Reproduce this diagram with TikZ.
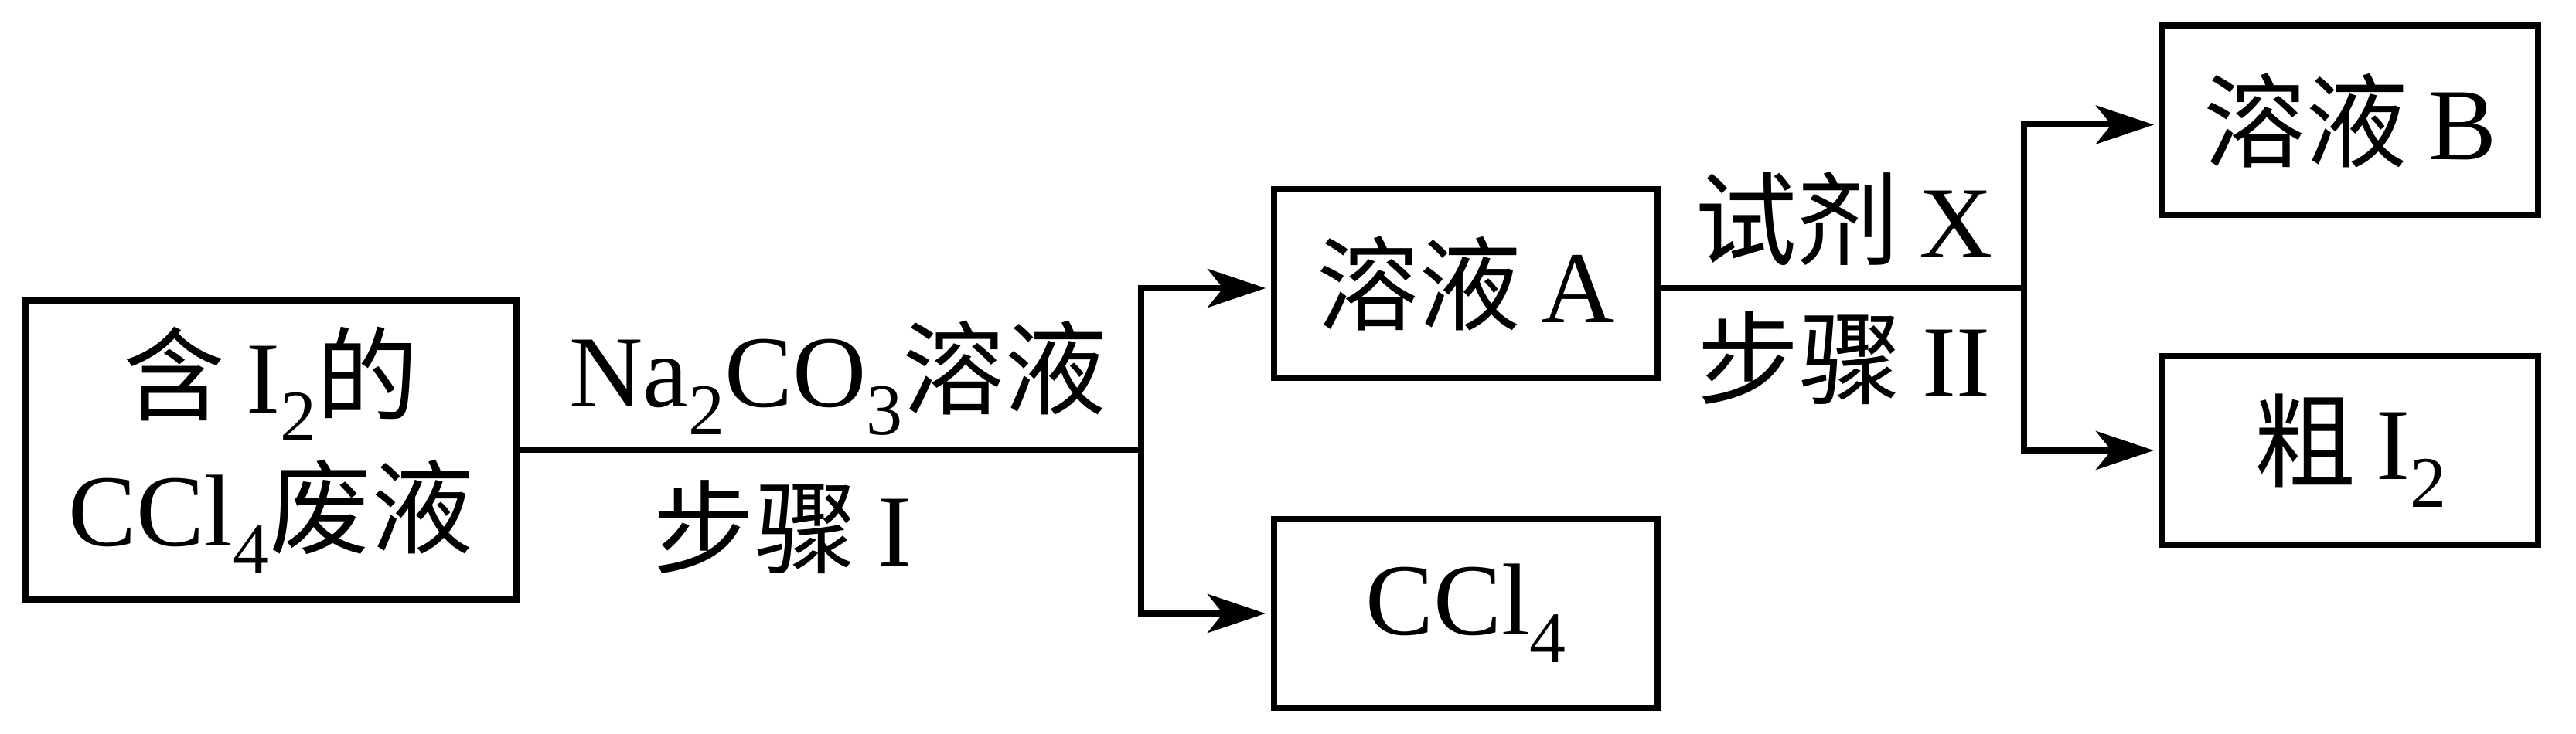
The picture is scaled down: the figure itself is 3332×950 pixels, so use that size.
\documentclass[tikz,border=0pt]{standalone}
\usepackage{fontspec}
\setmainfont{Liberation Serif}
\newfontfamily\cjk{Noto Sans CJK SC}
\usetikzlibrary{arrows.meta}
\newcommand\sbs[1]{\raisebox{-0.27em}{\fontsize{94}{94}\selectfont #1}}
\newcommand\gap{\hspace{0.2em}}
\begin{document}
\begin{tikzpicture}[x=1pt,y=1pt,
  box/.style={draw, line width=8pt, inner sep=0pt, align=center,
    font=\fontsize{132}{172}\selectfont},
  lab/.style={inner sep=0pt, font=\fontsize{132}{150}\selectfont},
  conn/.style={line width=8pt},
  arr/.style={conn, -{Stealth[length=75pt,width=50pt,inset=20pt]}, shorten >=7pt}]
\useasboundingbox (0,0) rectangle (3332,950);
\node[box, minimum width=635pt, minimum height=387pt] (b1) at (350.5,367.5)
  {{\cjk 含}\gap I\sbs{2}{\cjk 的}\\CCl\sbs{4}{\cjk 废液}};
\node[box, minimum width=496pt, minimum height=244pt] (A) at (1896,583) {{\cjk 溶液}\gap A};
\node[box, minimum width=496pt, minimum height=244pt] (C) at (1896,156) {CCl\sbs{4}};
\node[box, minimum width=486pt, minimum height=245pt] (B) at (3040,794.5) {{\cjk 溶液}\gap B};
\node[box, minimum width=486pt, minimum height=244pt] (I) at (3040,367) {{\cjk 粗}\gap I\sbs{2}};
\coordinate (j1) at (1476,0 |- b1.east);
\coordinate (aw) at ([yshift=-6pt]A.west);
\coordinate (ae) at ([yshift=-6pt]A.east);
\coordinate (bw) at ([yshift=-6pt]B.west);
\coordinate (j2) at (2618,0 |- ae);
\draw[conn] (b1.east) -- (j1);
\draw[arr] (j1) |- (aw);
\draw[arr] (j1) |- (C.west);
\draw[conn] (ae) -- (j2);
\draw[arr] (j2) |- (bw);
\draw[arr] (j2) |- (I.west);
\node[lab, anchor=base] (l1) at (1084,423) {Na\sbs{2}CO\sbs{3}{\cjk 溶液}};
\node[lab, anchor=base] (l2) at (1012,217) {{\cjk 步骤}\gap I};
\node[lab, anchor=base] (l3) at (2385,616) {{\cjk 试剂}\gap X};
\node[lab, anchor=base] (l4) at (2385,436) {{\cjk 步骤}\gap II};
\end{tikzpicture}
\end{document}
